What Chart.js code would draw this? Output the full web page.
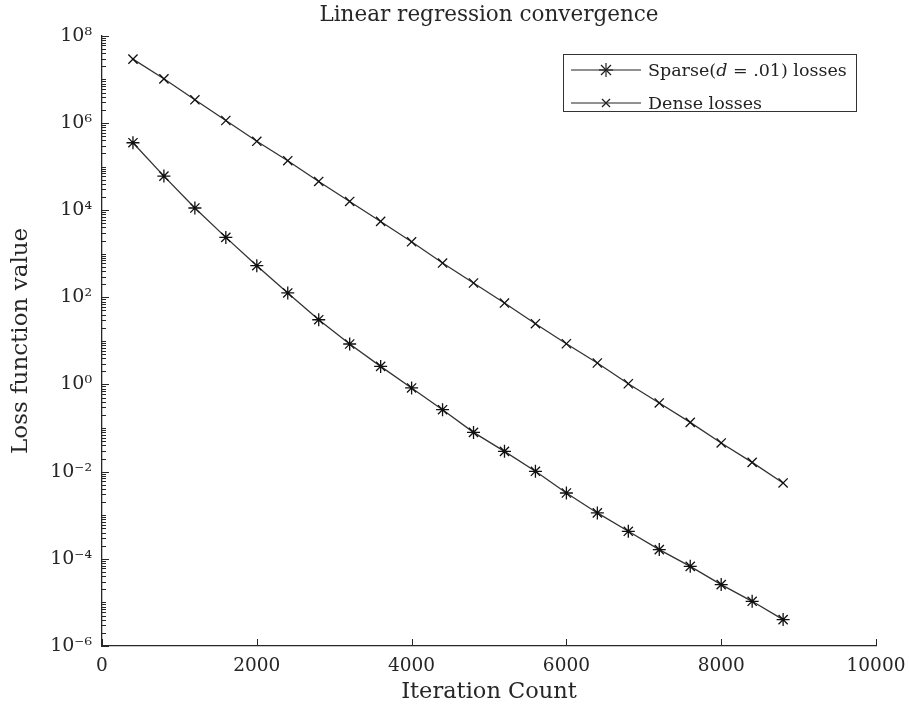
<!DOCTYPE html>
<html>
<head>
<meta charset="utf-8">
<script src="https://cdn.jsdelivr.net/npm/chart.js@4"></script>
<style>
  html, body { margin: 0; padding: 0; background: #fff; }
  #wrap { position: relative; width: 909px; height: 712px; }
  #legend {
    position: absolute; left: 563px; top: 54px; width: 294px; height: 58px;
    border: 1px solid #333; background: #fff; box-sizing: border-box;
    font-family: "DejaVu Serif", serif; font-size: 17.5px; color: #222;
  }
  .row { position: absolute; left: 0; height: 26px; display: flex; align-items: center; white-space: nowrap; }
  .row svg { margin-left: 7px; margin-right: 7px; }
</style>
</head>
<body>
<div id="wrap">
  <canvas id="c" width="909" height="712"></canvas>
  <div id="legend"></div>
</div>
<script>
// ---- data ----
const iterations = [400, 800, 1200, 1600, 2000, 2400, 2800, 3200, 3600, 4000, 4400,
                    4800, 5200, 5600, 6000, 6400, 6800, 7200, 7600, 8000, 8400, 8800];
const sparseLosses = [3.52e5, 6.05e4, 1.12e4, 2.37e3, 531, 126, 30.6, 8.49, 2.60, 0.832, 0.264,
                      0.0796, 0.0292, 0.0102, 3.24e-3, 1.13e-3, 4.28e-4, 1.63e-4, 6.73e-5, 2.56e-5, 1.06e-5, 4.04e-6];
const denseLosses = [2.92e7, 1.03e7, 3.40e6, 1.14e6, 3.80e5, 1.36e5, 4.55e4, 1.58e4, 5.51e3, 1.88e3, 612,
                     213, 74, 24.8, 8.6, 3.11, 1.04, 0.377, 0.135, 0.0455, 0.0163, 0.0055];
const seriesLabels = ["Sparse(d = .01) losses", "Dense losses"];
const xTickValues = [0, 2000, 4000, 6000, 8000, 10000];
const yTickExponents = [8, 6, 4, 2, 0, -2, -4, -6];

const FONT = "DejaVu Serif";
const INK = "#262626";

const sup = {"0":"⁰","1":"¹","2":"²","3":"³","4":"⁴","5":"⁵","6":"⁶","7":"⁷","8":"⁸","9":"⁹","-":"⁻"};
function powLabel(v) {
  const e = Math.round(Math.log10(v));
  return "10" + String(e).split("").map(ch => sup[ch]).join("");
}

// inward tick marks drawn from the scales' own pixel mapping
const innerTicks = {
  id: "innerTicks",
  afterDraw(chart) {
    const {ctx, chartArea: a, scales: {x, y}} = chart;
    ctx.save();
    ctx.strokeStyle = INK;
    ctx.lineWidth = 1;
    ctx.beginPath();
    xTickValues.forEach(v => {
      const px = Math.round(x.getPixelForValue(v)) + 0.5;
      ctx.moveTo(px, a.bottom); ctx.lineTo(px, a.bottom - 7);
    });
    const emin = yTickExponents[yTickExponents.length - 1], emax = yTickExponents[0];
    for (let e = emin; e <= emax; e++) {
      for (let k = 1; k <= 9; k++) {
        const v = k * Math.pow(10, e);
        if (v > Math.pow(10, emax) * 1.0001) break;
        const py = Math.round(y.getPixelForValue(v)) + 0.5;
        const major = (k === 1 && yTickExponents.includes(e));
        ctx.moveTo(a.left, py); ctx.lineTo(a.left + (major ? 7 : 4), py);
      }
    }
    ctx.stroke();
    ctx.restore();
  }
};

const toXY = vals => iterations.map((it, i) => ({x: it, y: vals[i]}));

new Chart(document.getElementById("c"), {
  type: "line",
  data: {
    datasets: [
      { label: seriesLabels[0], data: toXY(sparseLosses), borderColor: "#333", borderWidth: 1.3,
        pointStyle: "star", pointRadius: 6.5, pointBorderColor: "#111", pointBorderWidth: 1.3,
        pointBackgroundColor: "#111", tension: 0, fill: false },
      { label: seriesLabels[1], data: toXY(denseLosses), borderColor: "#333", borderWidth: 1.3,
        pointStyle: "crossRot", pointRadius: 6.5, pointBorderColor: "#111", pointBorderWidth: 1.3,
        tension: 0, fill: false }
    ]
  },
  options: {
    responsive: false,
    animation: false,
    devicePixelRatio: 1,
    layout: { padding: { left: 0, right: 33, top: 0, bottom: 0 } },
    plugins: {
      legend: { display: false },
      tooltip: { enabled: false },
      title: { display: true, fullSize: false, text: "Linear regression convergence", color: INK,
               font: { family: FONT, size: 21.5, weight: "normal", lineHeight: 1.2 },
               padding: { top: 3, bottom: 7 } }
    },
    scales: {
      x: {
        type: "linear", min: 0, max: 10000,
        afterBuildTicks: s => { s.ticks = xTickValues.map(v => ({value: v})); },
        afterFit: s => { s.height = 66; s.paddingLeft = 0; s.paddingRight = 0; },
        grid: { display: false, drawTicks: false },
        border: { display: true, color: INK, width: 1.3 },
        ticks: { color: INK, font: { family: FONT, size: 18.5 }, padding: 9, maxRotation: 0,
                 autoSkip: false, callback: v => String(v) },
        title: { display: true, text: "Iteration Count", color: INK,
                 font: { family: FONT, size: 22.5, lineHeight: 1.2 }, padding: { top: 0, bottom: 6 } }
      },
      y: {
        type: "logarithmic", min: 1e-6, max: 1e8,
        afterBuildTicks: s => { s.ticks = yTickExponents.map(e => ({value: Math.pow(10, e)})); },
        afterFit: s => { s.width = 102; },
        grid: { display: false, drawTicks: false },
        border: { display: true, color: INK, width: 1.3 },
        ticks: { color: INK, font: { family: FONT, size: 19 }, padding: 10, autoSkip: false,
                 callback: v => powLabel(v) },
        title: { display: true, text: "Loss function value", color: INK,
                 font: { family: FONT, size: 23, lineHeight: 1.2 }, padding: { top: 7, bottom: 0 } }
      }
    }
  },
  plugins: [innerTicks]
});

// HTML legend built from the series labels
const legend = document.getElementById("legend");
const markers = [
  '<line x1="35" y1="6" x2="35" y2="20" /><line x1="28" y1="13" x2="42" y2="13" /><line x1="30" y1="8" x2="40" y2="18" /><line x1="40" y1="8" x2="30" y2="18" />',
  '<line x1="31" y1="9" x2="39" y2="17" /><line x1="39" y1="9" x2="31" y2="17" />'
];
seriesLabels.forEach((lab, i) => {
  const row = document.createElement("div");
  row.className = "row";
  row.style.top = (i === 0 ? 2 : 35) + "px";
  const txt = lab.replace("(d ", "(<i>d</i> ");
  row.innerHTML = '<svg width="70" height="26" stroke="#222" stroke-width="1.2">' +
    '<line x1="0" y1="13" x2="70" y2="13" />' + markers[i] + '</svg><span>' + txt + '</span>';
  legend.appendChild(row);
});
</script>
</body>
</html>
